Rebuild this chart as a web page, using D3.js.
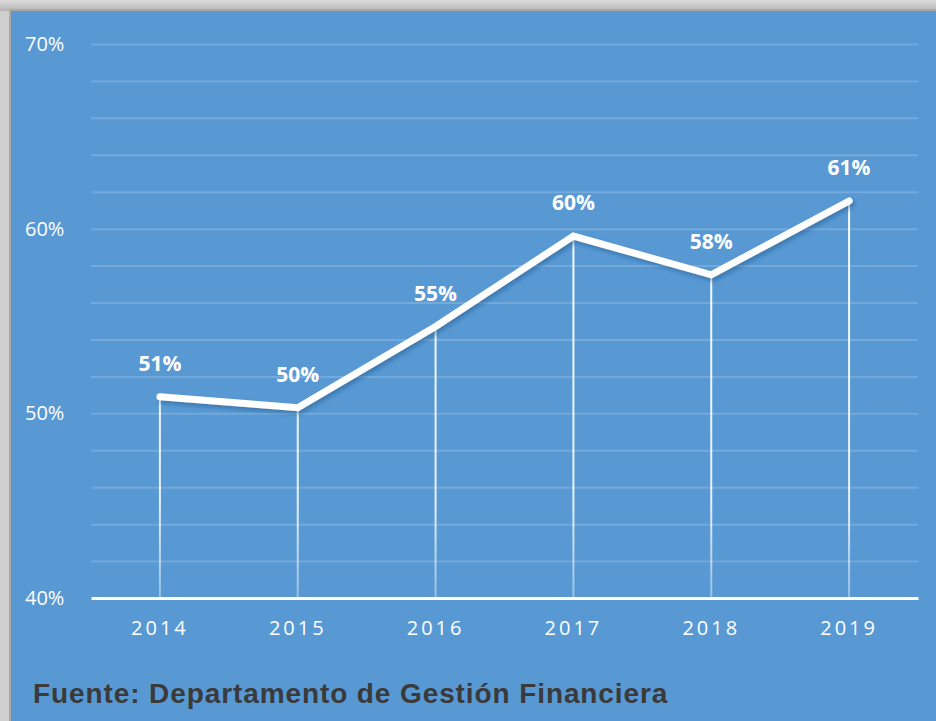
<!DOCTYPE html>
<html>
<head>
<meta charset="utf-8">
<script src="https://cdn.jsdelivr.net/npm/d3@7"></script>
<style>
  body { margin: 0; background: #d4d4d4; }
  svg { display: block; }
</style>
</head>
<body>
<div id="chart"></div>
<script>
// data
var years = ["2014", "2015", "2016", "2017", "2018", "2019"];
var values = [50.9, 50.3, 54.7, 59.6, 57.5, 61.5];
var labels = ["51%", "50%", "55%", "60%", "58%", "61%"];
var yTicks = [40, 50, 60, 70];
var source = "Fuente: Departamento de Gestión Financiera";

var W = 936, H = 721;
var margin = { top: 44, right: 18, bottom: 123, left: 91 };
var innerW = W - margin.left - margin.right,
    innerH = H - margin.top - margin.bottom;

var svg = d3.select("#chart").append("svg")
    .attr("width", W)
    .attr("height", H);

var defs = svg.append("defs");
var bgGrad = defs.append("linearGradient").attr("id", "frameTop")
    .attr("x1", 0).attr("y1", 0).attr("x2", 0).attr("y2", 1);
bgGrad.append("stop").attr("offset", "0%").attr("stop-color", "#dcdcdc");
bgGrad.append("stop").attr("offset", "100%").attr("stop-color", "#b4b4b4");

var fade = defs.append("linearGradient").attr("id", "drop")
    .attr("gradientUnits", "userSpaceOnUse")
    .attr("x1", 0).attr("y1", margin.top).attr("x2", 0).attr("y2", margin.top + innerH);
fade.append("stop").attr("offset", "0%").attr("stop-color", "#fff").attr("stop-opacity", 1);
fade.append("stop").attr("offset", "75%").attr("stop-color", "#fff").attr("stop-opacity", 0.85);
fade.append("stop").attr("offset", "100%").attr("stop-color", "#fff").attr("stop-opacity", 0.15);

var shadow = defs.append("filter").attr("id", "shadow")
    .attr("x", "-10%").attr("y", "-10%").attr("width", "120%").attr("height", "130%");
shadow.append("feDropShadow").attr("dx", 2).attr("dy", 3).attr("stdDeviation", 2)
    .attr("flood-color", "#1f4f80").attr("flood-opacity", 0.45);

// gray frame + blue panel
svg.append("rect").attr("width", W).attr("height", H).attr("fill", "#d0d0d0");
svg.append("rect").attr("width", W).attr("height", 11).attr("fill", "url(#frameTop)");
svg.append("rect").attr("x", 9).attr("y", 9).attr("width", W - 9).attr("height", H - 9).attr("fill", "#a9a9a9");
svg.append("rect").attr("x", 11).attr("y", 11).attr("width", W - 11).attr("height", H - 11).attr("fill", "#5899d4");

var g = svg.append("g")
    .attr("transform", "translate(" + margin.left + "," + margin.top + ")");

var x = d3.scaleBand().domain(years).range([0, innerW]);
var y = d3.scaleLinear().domain([40, 70]).range([innerH, 0]);

// gridlines every 2%
var gridAxis = d3.axisLeft(y)
    .tickValues(d3.range(42, 71, 2))
    .tickSize(-innerW)
    .tickFormat("");
g.append("g").attr("class", "grid").call(gridAxis)
    .call(s => s.select(".domain").remove())
    .selectAll("line")
    .attr("stroke", "#ffffff")
    .attr("stroke-opacity", 0.17)
    .attr("stroke-width", 2);

// y labels
var yAxis = d3.axisLeft(y).tickValues(yTicks).tickSize(0)
    .tickFormat(d => d + "%");
g.append("g").call(yAxis)
    .call(s => s.select(".domain").remove())
    .selectAll("text")
    .attr("fill", "#ffffff")
    .attr("font-family", "'Open Sans', 'Liberation Sans', sans-serif")
    .attr("font-size", 20)
    .attr("text-anchor", "start")
    .attr("x", -margin.left + 25);

// drop lines
g.selectAll(".drop").data(years).enter().append("line")
    .attr("class", "drop")
    .attr("x1", d => x(d) + x.bandwidth() / 2)
    .attr("x2", d => x(d) + x.bandwidth() / 2)
    .attr("y1", (d, i) => y(values[i]))
    .attr("y2", innerH)
    .attr("stroke", "url(#drop)")
    .attr("stroke-width", 2);

// x axis
var xAxis = d3.axisBottom(x).tickSize(0).tickPadding(23);
var xg = g.append("g").attr("transform", "translate(0," + innerH + ")").call(xAxis);
xg.select(".domain").attr("stroke", "#ffffff").attr("stroke-width", 3);
xg.selectAll("text")
    .attr("fill", "#ffffff")
    .attr("font-family", "'Open Sans', 'Liberation Sans', sans-serif")
    .attr("font-size", 20)
    .attr("letter-spacing", "3px");

// line
var line = d3.line()
    .x((d, i) => x(years[i]) + x.bandwidth() / 2)
    .y(d => y(d));
g.append("path")
    .datum(values)
    .attr("d", line)
    .attr("fill", "none")
    .attr("stroke", "#ffffff")
    .attr("stroke-width", 7)
    .attr("stroke-linecap", "round")
    .attr("stroke-linejoin", "miter")
    .attr("filter", "url(#shadow)");

// value labels
g.selectAll(".lbl").data(values).enter().append("text")
    .attr("class", "lbl")
    .attr("x", (d, i) => x(years[i]) + x.bandwidth() / 2)
    .attr("y", d => y(d) - 26)
    .attr("text-anchor", "middle")
    .attr("fill", "#ffffff")
    .attr("font-family", "'Open Sans', 'Liberation Sans', sans-serif")
    .attr("font-weight", "bold")
    .attr("font-size", 21)
    .text((d, i) => labels[i]);

// source
svg.append("text")
    .attr("x", 33)
    .attr("y", 703)
    .attr("fill", "#3a3a3a")
    .attr("font-family", "'Liberation Sans', Arial, sans-serif")
    .attr("font-weight", "bold")
    .attr("font-size", 28)
    .attr("letter-spacing", "0.9px")
    .text(source);
</script>
</body>
</html>
